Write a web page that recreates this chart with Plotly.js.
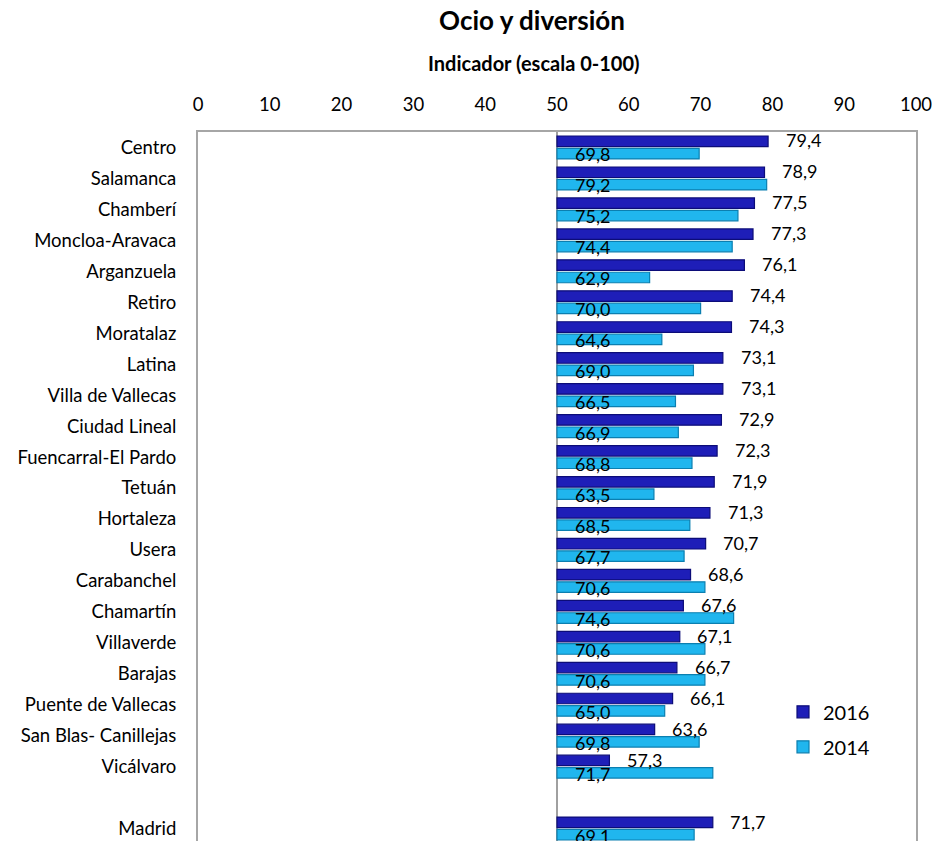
<!DOCTYPE html>
<html>
<head>
<meta charset="utf-8">
<script src="https://cdn.plot.ly/plotly-3.0.1.min.js"></script>
<style>
html,body{margin:0;padding:0;overflow:hidden;background:#fff;}
#chart{width:932px;height:850px;}
</style>
</head>
<body>
<div id="chart"></div>
<script>
const districts = ["Centro","Salamanca","Chamberí","Moncloa-Aravaca","Arganzuela","Retiro","Moratalaz","Latina","Villa de Vallecas","Ciudad Lineal","Fuencarral-El Pardo","Tetuán","Hortaleza","Usera","Carabanchel","Chamartín","Villaverde","Barajas","Puente de Vallecas","San Blas- Canillejas","Vicálvaro","Madrid"];
const axisOrder = ["Centro","Salamanca","Chamberí","Moncloa-Aravaca","Arganzuela","Retiro","Moratalaz","Latina","Villa de Vallecas","Ciudad Lineal","Fuencarral-El Pardo","Tetuán","Hortaleza","Usera","Carabanchel","Chamartín","Villaverde","Barajas","Puente de Vallecas","San Blas- Canillejas","Vicálvaro"," ","Madrid"];
const values2016 = [79.4,78.9,77.5,77.3,76.1,74.4,74.3,73.1,73.1,72.9,72.3,71.9,71.3,70.7,68.6,67.6,67.1,66.7,66.1,63.6,57.3,71.7];
const values2014 = [69.8,79.2,75.2,74.4,62.9,70.0,64.6,69.0,66.5,66.9,68.8,63.5,68.5,67.7,70.6,74.6,70.6,70.6,65.0,69.8,71.7,69.1];
const xTicks = [0,10,20,30,40,50,60,70,80,90,100];
const baseValue = 50;

const fmt = v => v.toFixed(1).replace('.', ',');
const labelFont = {family: 'Lato, "Open Sans", sans-serif', size: 18, color: '#000'};
const axisFont = {family: 'Lato, "Open Sans", sans-serif', size: 18.5, color: '#000'};

const trace2016 = {
  type: 'bar', orientation: 'h', name: '2016', legendgroup: 'a',
  y: districts, x: values2016.map(v => v - baseValue), base: baseValue,
  marker: {color: '#1e1eb8', line: {color: '#0c0c78', width: 1.2}},
  hoverinfo: 'skip'
};
const trace2014 = {
  type: 'bar', orientation: 'h', name: '2014', legendgroup: 'b',
  y: districts, x: values2014.map(v => v - baseValue), base: baseValue,
  marker: {color: '#20b6ee', line: {color: '#0b7fb0', width: 1.2}},
  hoverinfo: 'skip'
};

const annotations = [];
districts.forEach((d, i) => {
  annotations.push({x: values2016[i] + 4.9, y: d, xref: 'x', yref: 'y', text: fmt(values2016[i]),
    showarrow: false, xanchor: 'center', yanchor: 'middle', yshift: 7, font: labelFont});
  annotations.push({x: baseValue + 4.9, y: d, xref: 'x', yref: 'y', text: fmt(values2014[i]),
    showarrow: false, xanchor: 'center', yanchor: 'middle', yshift: -7, font: labelFont});
});
annotations.push({x: 0.468, y: 1.097, xref: 'paper', yref: 'paper', text: '<b>Indicador (escala 0-100)</b>',
  showarrow: false, xanchor: 'center', yanchor: 'middle', font: {family: 'Lato, sans-serif', size: 20, color: '#000'}});

const layout = {
  width: 932, height: 850,
  margin: {l: 198, r: 16, t: 132, b: 6},
  paper_bgcolor: '#fff', plot_bgcolor: '#fff',
  title: {text: '<b>Ocio y diversión</b>', x: 532/932, xanchor: 'center', y: 1 - 21/850, yanchor: 'middle', yref: 'container',
    font: {family: 'Lato, sans-serif', size: 26, color: '#000'}},
  barmode: 'group', bargap: 0.2, bargroupgap: 0.15,
  xaxis: {side: 'top', range: [0, 100], tickvals: xTicks, ticktext: xTicks.map(String), showgrid: false, zeroline: false,
    showline: true, mirror: true, linecolor: '#a6a6a6', linewidth: 2, ticklabeloverflow: 'allow',
    ticks: 'outside', ticklen: 12, tickcolor: 'rgba(0,0,0,0)', tickfont: axisFont},
  yaxis: {type: 'category', categoryorder: 'array', categoryarray: axisOrder, range: [22.5, -0.5],
    showgrid: false, zeroline: false, showline: true, mirror: true, linecolor: '#a6a6a6', linewidth: 2,
    ticks: 'outside', ticklen: 16, tickcolor: 'rgba(0,0,0,0)', tickfont: axisFont},
  shapes: [{type: 'line', xref: 'x', yref: 'paper', x0: baseValue, x1: baseValue, y0: 0, y1: 1,
    line: {color: '#a0a0a0', width: 2}, layer: 'below'}],
  legend: {x: (783 - 198) / 718, y: 0.213, xanchor: 'left', yanchor: 'top', traceorder: 'grouped', tracegroupgap: 6,
    font: {family: 'Lato, sans-serif', size: 20, color: '#000'}, bgcolor: 'rgba(0,0,0,0)', itemwidth: 30},
  annotations: annotations,
  showlegend: true
};

Plotly.newPlot('chart', [trace2016, trace2014], layout, {displayModeBar: false, staticPlot: true});
</script>
</body>
</html>
